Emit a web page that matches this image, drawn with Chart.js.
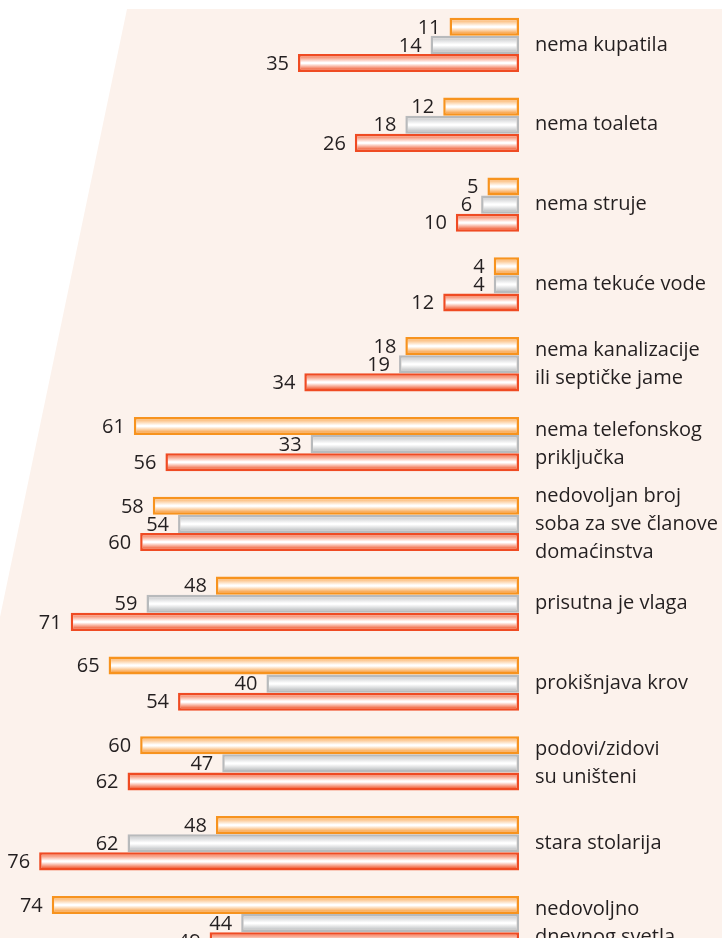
<!DOCTYPE html>
<html>
<head>
<meta charset="utf-8">
<script src="https://cdn.jsdelivr.net/npm/chart.js@4.4.1/dist/chart.umd.min.js"></script>
<style>
	body { margin: 0; background: #ffffff; overflow: hidden; }
</style>
</head>
<body>
<canvas id="myChart" width="727" height="963"></canvas>
<script>
var categories = [
	'nema kupatila',
	'nema toaleta',
	'nema struje',
	'nema tekuće vode',
	['nema kanalizacije', 'ili septičke jame'],
	['nema telefonskog', 'priključka'],
	['nedovoljan broj', 'soba za sve članove', 'domaćinstva'],
	'prisutna je vlaga',
	'prokišnjava krov',
	['podovi/zidovi', 'su uništeni'],
	'stara stolarija',
	['nedovoljno', 'dnevnog svetla']
];
var series1 = [11, 12, 5, 4, 18, 61, 58, 48, 65, 60, 48, 74];
var series2 = [14, 18, 6, 4, 19, 33, 54, 59, 40, 47, 62, 44];
var series3 = [35, 26, 10, 12, 34, 56, 60, 71, 54, 62, 76, 49];

var catPct = 0.68;

// vertical shine on every bar, computed from the category scale
function shine(top, bottom) {
	return function(ctx) {
		var chart = ctx.chart;
		var y = chart.scales.y;
		if (!y || ctx.type !== 'data') return top;
		var step = (y.bottom - y.top) / categories.length;
		var chunk = step * catPct / 3;
		var start = y.getPixelForValue(ctx.dataIndex) + (ctx.datasetIndex - 1.5) * chunk;
		if (!isFinite(start) || !isFinite(chunk) || chunk <= 0) return top;
		var g = chart.ctx.createLinearGradient(0, start, 0, start + chunk);
		g.addColorStop(0, top);
		g.addColorStop(0.2, top);
		g.addColorStop(0.47, '#ffffff');
		g.addColorStop(0.53, '#ffffff');
		g.addColorStop(0.85, bottom);
		g.addColorStop(1, bottom);
		return g;
	};
}

var backShape = {
	id: 'backShape',
	beforeDraw: function(chart) {
		var c = chart.ctx;
		c.save();
		c.fillStyle = '#fcf2ec';
		c.beginPath();
		c.moveTo(127, 9);
		c.lineTo(722, 9);
		c.lineTo(722, chart.height);
		c.lineTo(0, chart.height);
		c.lineTo(0, 617);
		c.closePath();
		c.fill();
		c.restore();
	}
};

var valueLabels = {
	id: 'valueLabels',
	afterDatasetsDraw: function(chart) {
		var c = chart.ctx;
		c.save();
		c.font = '20px "Open Sans"';
		c.fillStyle = '#231f20';
		c.textAlign = 'right';
		c.textBaseline = 'middle';
		chart.data.datasets.forEach(function(ds, i) {
			chart.getDatasetMeta(i).data.forEach(function(bar, j) {
				c.fillText(ds.data[j], bar.x - 9, bar.y + 1);
			});
		});
		c.restore();
	}
};

var ctx = document.getElementById('myChart').getContext('2d');
var chart = new Chart(ctx, {
	type: 'bar',
	data: {
		labels: categories,
		datasets: [{
			data: series1,
			backgroundColor: shine('#fcc58c', '#f9a650'),
			borderColor: '#f7931e'
		}, {
			data: series2,
			backgroundColor: shine('#d6d7d9', '#c4c6c8'),
			borderColor: '#b8babc'
		}, {
			data: series3,
			backgroundColor: shine('#f79b80', '#f26c47'),
			borderColor: '#ef4b23'
		}]
	},
	options: {
		indexAxis: 'y',
		responsive: false,
		animation: false,
		devicePixelRatio: 1,
		layout: { padding: { top: 5, left: 0, right: 0, bottom: 0 } },
		datasets: {
			bar: {
				categoryPercentage: catPct,
				barPercentage: 1,
				borderWidth: 2.5,
				borderSkipped: false
			}
		},
		scales: {
			x: {
				display: false,
				reverse: true,
				min: 0,
				max: 82.2
			},
			y: {
				position: 'right',
				grid: { display: false, drawTicks: false },
				border: { display: false },
				ticks: {
					autoSkip: false,
					padding: 16,
					color: '#231f20',
					font: { family: '"Open Sans"', size: 20, lineHeight: 1.4 }
				},
				afterFit: function(scale) {
					scale.width = 208;
					scale.paddingTop = 0;
					scale.paddingBottom = 0;
				}
			}
		},
		plugins: {
			legend: { display: false },
			tooltip: { enabled: false }
		}
	},
	plugins: [backShape, valueLabels]
});
</script>
</body>
</html>
